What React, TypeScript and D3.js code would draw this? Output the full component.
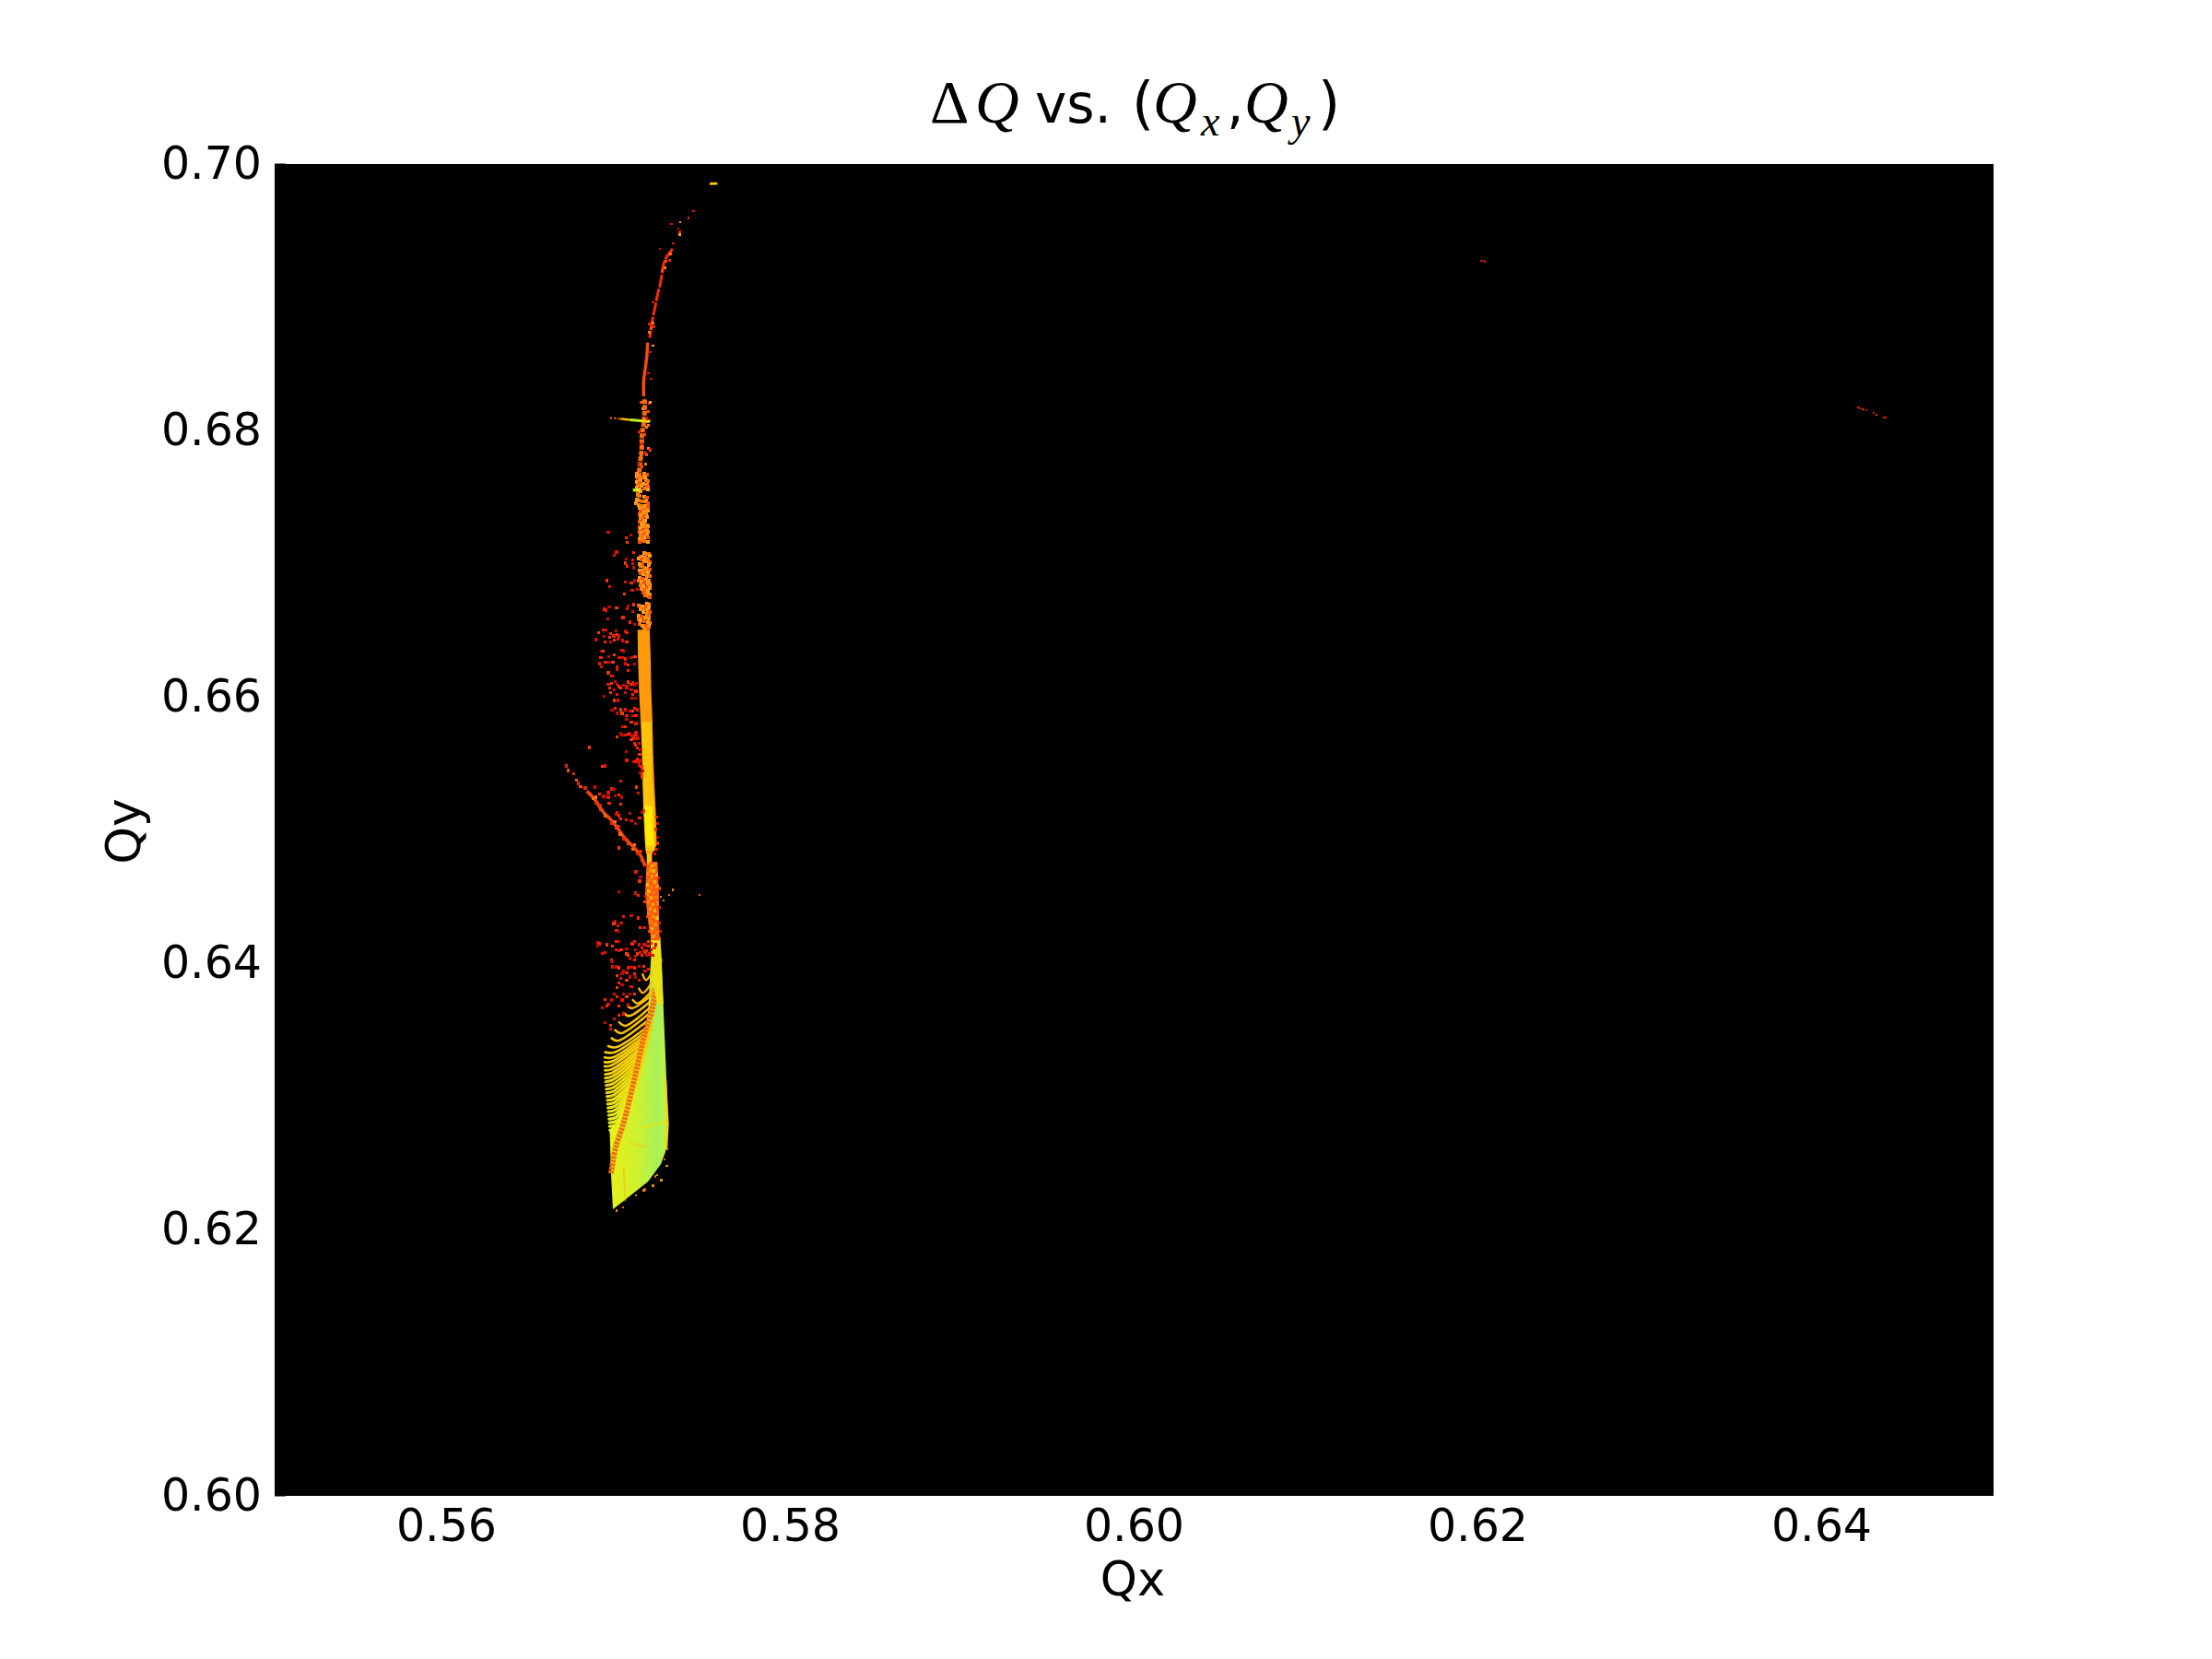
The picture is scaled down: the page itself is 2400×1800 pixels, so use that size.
import React from "react";
import * as d3 from "d3";

type P = [number, number];

const xTicks = [0.56, 0.58, 0.6, 0.62, 0.64];
const yTicks = [0.6, 0.62, 0.64, 0.66, 0.68, 0.7];

const fanBody: P[] = [[.57188,.64014],[.57247,.64104],[.57273,.63322],[.5729,.62789],[.57273,.62581],[.57247,.62491],[.57172,.6236],[.57064,.62249],[.56968,.62152],[.56957,.62422],[.56949,.62745],[.57021,.62860],[.57075,.63020],[.57129,.63273],[.57172,.63619]];
const fanRightEdge: P[] = [[.5727,.63135],[.57279,.63135],[.57293,.6279],[.57285,.626],[.57272,.626],[.57281,.6279]];
const fanBand: P[] = [[.56957,.62422],[.56984,.62616],[.57032,.6281],[.57075,.63031],[.57118,.63273],[.57155,.63481],[.57193,.6364],[.5722,.63827],[.57241,.64035]];
const faintYellow: P[] = [[.57144,.62766],[.57278,.62812]];
const faintOrange: P[] = [[.57066,.6265],[.57173,.62616]];
const faintVertical: P[] = [[.57031,.62466],[.5704,.62212]];
const stripeLeft: P[] = [[.57141,.63915],[.5712,.63809],[.57084,.63723],[.57052,.63684],[.57031,.63626],[.57004,.63557],[.56981,.63497],[.56961,.63435],[.56941,.63377],[.56923,.63331],[.5692,.63292],[.5692,.63257],[.5692,.63225],[.56922,.63195],[.56923,.63165],[.56923,.63137],[.56925,.6311],[.56927,.63082],[.56929,.63054],[.56931,.63026],[.56933,.62998],[.56935,.6297],[.56937,.62942],[.56939,.62914],[.56941,.62886],[.56943,.62858],[.56945,.6283],[.56947,.62802],[.56949,.62774],[.56951,.62746]];
const stripeBend: P[] = [[.57161,.63873],[.57141,.63776],[.57111,.63698],[.57077,.63661],[.57061,.63603],[.5704,.6353],[.57016,.63474],[.56998,.63417],[.56986,.63368],[.56977,.63331],[.56968,.63292],[.56963,.63262],[.56959,.63232],[.56963,.63204],[.56963,.63177],[.56963,.63149],[.56965,.63122],[.56967,.63094],[.56969,.63066],[.56971,.63038],[.56973,.6301],[.56975,.62982],[.56977,.62954],[.56979,.62926],[.56981,.62898],[.56983,.6287],[.56985,.62842],[.56987,.62814],[.56989,.62786],[.56991,.62758]];
const stripeRight: P[] = [[.57197,.63938],[.57206,.63878],[.57209,.63816],[.57213,.63781],[.57216,.63746],[.57216,.63707],[.57213,.63661],[.57206,.63608],[.572,.63555],[.57195,.63523],[.57188,.63493],[.57182,.63463],[.57177,.63435],[.57172,.63407],[.57166,.6338],[.57161,.63352],[.57156,.63324],[.5715,.63296],[.57145,.63268],[.5714,.6324],[.57134,.63212],[.57129,.63184],[.57123,.63156],[.57118,.63128],[.57113,.631],[.57107,.63072],[.57102,.63044],[.57096,.63016],[.57091,.62988],[.57086,.6296]];

const columnSolid: P[] = [[.57111,.66503],[.57114,.66273],[.5712,.66042],[.57129,.65811],[.57137,.6558],[.57141,.6535],[.57146,.65119],[.57155,.64888],[.57161,.64819],[.57195,.64819],[.57223,.64888],[.57218,.65119],[.57209,.6535],[.57202,.6558],[.57198,.65811],[.57191,.66042],[.57188,.66273],[.57182,.66503]];
const columnCore: P[] = [[.57134,.65811],[.57191,.65811],[.57195,.65396],[.57209,.65119],[.57212,.64842],[.57159,.64842],[.57145,.65234]];
const columnBright: P[] = [[.57148,.6518],[.57195,.6518],[.57206,.6488],[.5716,.6488]];
const columnNeck: P[] = [[.57165,.64825],[.57195,.64825],[.57195,.64755],[.57165,.64755]];
const columnLowerRed: P[] = [[.57164,.64761],[.57227,.64761],[.57236,.64519],[.57236,.64311],[.57241,.64172],[.57191,.64172],[.57177,.64265],[.57155,.64519]];
const columnLowerYellow: P[] = [[.57187,.64196],[.57244,.64196],[.57253,.63965],[.57262,.63688],[.57227,.63688],[.57191,.63896]];
const lowerMix: P[] = [[.57175,.6475],[.57195,.6473],[.57215,.6474],[.57185,.647],[.57205,.6469],[.57172,.6467],[.57195,.6465],[.57222,.6466],[.5718,.6462],[.5721,.6461],[.57168,.6459],[.5719,.6457],[.57225,.64575],[.57178,.6454],[.57205,.6453],[.57165,.6451],[.5719,.6449],[.5722,.64495],[.57175,.6446],[.572,.6444],[.57228,.6445],[.57185,.6441],[.57212,.64395],[.57178,.6437],[.572,.6435],[.57225,.6434],[.57188,.6431],[.57215,.6429],[.57195,.6426],[.57222,.6423],[.57205,.642],[.57185,.6424]];
const lowerEdge: P[] = [[.57232,.6464],[.57238,.6456],[.5716,.645],[.57156,.6446],[.5724,.6442],[.57168,.6435],[.5724,.643],[.57178,.6424],[.57245,.6424]];

const arcTop: P[] = [[.57316,.69363],[.57281,.69305],[.57263,.69248],[.57254,.69178],[.57241,.69086],[.57227,.69017],[.57213,.68925],[.572,.68844],[.57191,.68786],[.57182,.68694]];
const arcMid: P[] = [[.5717,.68659],[.57165,.68555],[.57156,.68463],[.57147,.68371],[.57147,.68256]];
const arcLow: P[] = [[.57152,.68233],[.57152,.6814],[.57147,.68048],[.57138,.67979],[.57134,.6784],[.57125,.67748],[.5712,.67679]];
const streakRed: P[] = [[.5695,.68094],[.57013,.68087]];
const streakOrange: P[] = [[.57013,.68087],[.57066,.6808]];
const streakGreen: P[] = [[.57066,.6808],[.57129,.68073]];
const streakYellow: P[] = [[.57129,.68073],[.57182,.68066]];
const smallStreak: P[] = [[.57084,.67552],[.57129,.67552]];
const topBlob: P[] = [[.57531,.69852],[.57576,.69854]];
const diagonal: P[] = [[.56816,.65292],[.56852,.65246],[.56878,.652],[.56914,.65131],[.56959,.65073],[.56994,.65015],[.57039,.64934],[.57084,.64877],[.57129,.64808],[.57155,.64727]];
const diagonalTip: P[] = [[.56696,.65481],[.56709,.65447],[.56739,.65423],[.56757,.65373],[.56768,.6535],[.5678,.65327],[.56807,.65315]];
const diagonalScatter: P[] = [[.56834,.65269],[.56852,.65234],[.56869,.652],[.56896,.65154],[.56923,.65107],[.56959,.6505],[.56986,.65015],[.57012,.64969],[.5703,.64934],[.57057,.649],[.57084,.64854],[.57111,.64819],[.57137,.64773],[.56869,.65246],[.56896,.65188],[.56941,.65096],[.56977,.65061],[.57003,.65027],[.57048,.64923],[.57093,.64888],[.57129,.64842]];

const columnSpeckle: P[] = [
[.57108,.67675],[.57125,.6767],[.5715,.67672],[.57165,.67668],[.57105,.67655],[.57118,.6765],[.5714,.67645],[.57158,.6765],[.5711,.67635],[.5713,.67628],[.5716,.67625],[.57172,.6762],[.57106,.6761],[.57125,.67605],[.57145,.676],[.57165,.67595],[.57112,.6759],[.57132,.67585],[.5717,.6758],[.57108,.6757],[.57122,.6756],[.5715,.67565],[.57172,.67555],[.5711,.67545],[.5713,.6754],[.5711,.67515],[.57125,.6751],[.5715,.67505],[.57165,.67495],[.57105,.6748],[.5712,.67475],[.5714,.6747],[.5716,.67465],[.57172,.67455],[.571,.6745],[.57118,.6744],[.57138,.67435],[.57155,.6743],[.5717,.67425],
[.57125,.6742],[.5714,.67415],[.57155,.67405],[.5717,.674],[.5713,.6739],[.57148,.67385],[.5716,.67375],[.57122,.6737],[.57135,.6736],[.57152,.67355],[.57168,.6735],[.57128,.6734],[.57142,.67332],[.57158,.67325],[.57122,.67318],[.57135,.673],[.5715,.67295],[.57165,.6729],[.57172,.6728],[.57125,.67275],[.5714,.67272],[.57156,.67268],[.57168,.67262],[.5713,.67258],[.57145,.67252],[.5716,.67246],[.57172,.6724],[.57124,.67236],[.57138,.6723],[.57152,.67225],[.57166,.6722],[.57128,.67212],[.57142,.67206],[.57156,.672],[.5717,.67195],[.57126,.67186],[.57136,.67178],[.57148,.67172],[.57172,.6716],[.57122,.67165],
[.5715,.67078],[.57165,.67075],[.57178,.67072],[.57182,.6706],[.57128,.67055],[.57142,.6705],[.57158,.67048],[.57172,.6704],[.5712,.67035],[.57132,.67028],[.5715,.6702],[.57165,.67015],[.5718,.6701],[.57124,.67],[.5714,.66995],[.57175,.6699],[.5713,.6698],[.5715,.66972],[.57168,.66965],[.57182,.66958],[.57122,.6695],[.57138,.66945],[.57155,.6694],[.57172,.66932],[.57128,.66925],[.57145,.66918],[.57165,.6691],[.5718,.66905],[.57125,.66895],[.5714,.66888],[.5716,.6688],[.57178,.66875],[.57118,.6687],[.57132,.66862],[.5715,.66858],[.5717,.6685],[.57182,.66845],[.57128,.66838],[.57145,.6683],[.57165,.66825],[.5718,.66815],[.57135,.66808],[.57155,.668],[.57172,.66795],[.57145,.66785],[.57165,.66778],[.5718,.6677],[.57158,.6676],[.57178,.66755],[.57182,.66745],
[.57165,.66697],[.57178,.66692],[.5712,.66685],[.5714,.6668],[.5716,.66675],[.57175,.6667],[.5713,.6666],[.5715,.66655],[.5717,.6665],[.57182,.6664],[.57145,.66635],[.57165,.66625],[.57178,.66615],[.5712,.6661],[.57135,.66605],[.57155,.66598],[.57175,.6659],[.5712,.6658],[.5713,.66572],[.5715,.66565],[.5717,.6656],[.57182,.66555],[.57125,.66545],[.5714,.66535],[.5716,.6653],[.57178,.66525],[.5715,.66515],[.5717,.6651]];

const arcSpeckle: P[] = [[.57129,.6821],[.57182,.68203],[.57141,.68163],[.57174,.6814],[.57165,.68094],[.57174,.68036],[.57182,.68071],[.5712,.6799],[.57165,.68025],[.57152,.67967],[.57138,.67898],[.57174,.67863],[.57186,.67852],[.57156,.67829],[.57129,.67806],[.57165,.67817],[.5712,.67748],[.57156,.67748],[.57138,.67725],[.5729,.69317],[.57302,.69328],[.57277,.69271],[.57295,.69275],[.57272,.69224],[.57254,.69201],[.57182,.68798],[.572,.68809],[.57191,.68763],[.57206,.68782],[.57177,.6874]];

const topSparse: P[] = [[.57436,.69647],[.57406,.69594],[.57358,.69566],[.57308,.69552],[.57349,.69515],[.57356,.6949],[.57356,.69471],[.57318,.69404],[.57241,.69365],[.572,.68961],[.572,.68636],[.57186,.6859],[.57191,.68389],[.57174,.68429],[.57186,.6821],[.57186,.67863]];

const redCloud: P[] = [
[.56941,.67237],[.57045,.67195],[.57071,.67214],[.57052,.67161],[.56989,.67087],[.56977,.67061],[.57087,.67085],[.57045,.67034],[.57039,.67004],[.57084,.67029],[.57084,.66999],[.57053,.66981],[.57087,.66969],[.56932,.66872],[.5695,.66826],[.57041,.66861],[.57075,.66854],[.57093,.66872],[.57034,.66773],[.5708,.66798],[.57111,.66808],[.56919,.66658],[.56946,.66676],[.56989,.66669],[.56928,.66651],[.56937,.66584],[.57027,.66595],[.57057,.66683],[.57087,.66692],[.57052,.6666],[.57084,.66642],[.57066,.66561],[.57093,.66545],[.56884,.6648],[.56914,.66499],[.56928,.66499],[.56955,.66476],[.56986,.66496],[.56994,.66469],[.57003,.66457],[.57041,.66492],[.57052,.6648],[.56919,.66452],[.56948,.66446],[.56973,.66457],[.56869,.66429],[.56923,.66411],[.56953,.66411],[.56977,.66427],[.56998,.66434],[.57025,.66422],[.57048,.66411],[.56902,.66342],[.56912,.66342],[.57021,.66349],[.5703,.66342],[.56898,.66296],[.56944,.663],[.56977,.66314],[.57003,.66296],[.57021,.66296],[.57039,.66284],[.57075,.66296],[.57096,.663],[.56891,.66249],[.56902,.66226],[.56923,.66261],[.56941,.66261],[.56968,.66261],[.56994,.66226],[.57039,.66249],[.57057,.66238],[.57093,.66245],[.56941,.6618],[.56962,.66153],[.56994,.66203],[.57057,.66199],[.5698,.66116],[.56959,.661],[.56941,.66093],[.56991,.66093],[.57003,.66076],[.5703,.66088],[.57057,.66111],[.57084,.66106],[.57105,.661],[.5695,.66065],[.56977,.66053],[.57012,.66065],[.57048,.66065],[.57075,.66053],[.57102,.66042],[.56919,.66003],[.56955,.6603],[.56991,.66019],[.57039,.6603],[.57084,.66019],[.57098,.65991],[.56977,.65973],[.56998,.65973],[.57077,.65991],[.5698,.65915],[.56962,.65899],[.57012,.65903],[.57039,.65903],[.57066,.65892],[.57093,.65915],[.56991,.65876],[.57021,.65876],[.57048,.65857],[.57084,.65857],[.57102,.65857],[.57048,.6583],[.57075,.65811],[.57102,.658],[.57027,.65774],[.57039,.65774],[.57012,.65723],[.56991,.657],[.57039,.65714],[.57066,.65723],[.57093,.65714],[.57111,.65707],[.57075,.65677],[.57093,.6565],[.5712,.6565],[.57111,.65615],[.57045,.65587],[.5683,.6562],[.57048,.65523],[.57087,.65511],[.57111,.65534],[.57129,.65523],[.56909,.65477],[.56923,.65481],[.5712,.65488],[.57137,.65465],[.57129,.6543],[.57137,.65396],[.57012,.65366],[.56864,.65322],[.56962,.65308],[.56973,.65304],[.57105,.65322],[.56941,.6528],[.56914,.65253],[.56891,.65269],[.5698,.65257],[.57003,.65264],[.56941,.65246],[.57116,.65276],[.56946,.652],[.57019,.65246],[.57012,.65193],[.56994,.65131],[.56986,.65119],[.57003,.65107],[.57066,.65124],[.57012,.65084],[.57045,.65077],[.57075,.65068],[.57123,.65091],[.57098,.6505],[.57003,.64865],[.57102,.64685],[.57129,.64646],[.57123,.64616],[.57003,.64535],[.57098,.6453],
[.57223,.65096],[.57227,.6505],[.57218,.65004],[.57227,.64946],[.5723,.649],[.57223,.64854],[.57212,.64819],[.57146,.65142],[.57137,.65131],
[.57087,.65696],[.57102,.6573],[.57116,.65684],[.57098,.65638],[.57129,.65603],[.57123,.65569],[.57102,.65516],[.5712,.65511],[.57134,.65477],[.57141,.65442],[.57137,.65414],[.57098,.65684],[.5708,.65707],[.57057,.65719],[.57021,.65714],[.57084,.65892],[.57111,.65903],[.57048,.66076],[.57075,.66093],[.57093,.66088]];

const lowCloud: P[] = [[.57098,.64525],[.57114,.64507],[.57125,.64645],[.57123,.64615],[.5703,.64352],[.57075,.64357],[.57114,.64339],[.56982,.64311],[.56973,.64297],[.56998,.64283],[.57016,.64299],[.56989,.64246],[.56998,.64237],[.57128,.64269],[.5715,.64265],[.56878,.64154],[.56891,.64145],[.56878,.64131],[.56932,.64138],[.56923,.6408],[.56909,.64073],[.56985,.64161],[.57003,.64161],[.56967,.64126],[.56985,.64103],[.57003,.64092],[.57016,.64103],[.57048,.6411],[.57048,.64069],[.57093,.64161],[.57119,.64138],[.5708,.64145],[.57101,.64103],[.5711,.64069],[.57137,.64115],[.57146,.64092],[.57155,.6408],[.57164,.64057],[.57137,.64057],[.57128,.6408],[.57101,.64053],[.57093,.64023],[.57066,.64034],[.57057,.64057],[.56967,.63972],[.56985,.63972],[.56959,.64023],[.56967,.64011],[.57003,.63965],[.57057,.63965],[.57075,.6397],[.57093,.63965],[.57119,.63976],[.57146,.63976],[.57173,.63953],[.5703,.63942],[.57048,.6393],[.57021,.63919],[.56994,.63907],[.57012,.63884],[.57066,.63896],[.57093,.63919],[.57101,.63896],[.57048,.63873],[.57119,.63873],[.57155,.63942],[.57003,.6385],[.57021,.63838],[.56994,.63815],[.57075,.63826],[.56976,.63769],[.56994,.63746],[.5703,.63769],[.57048,.63746],[.57021,.63723],[.56959,.63723],[.56923,.63727],[.57066,.63769],[.57093,.63769],[.56941,.63693],[.56905,.63665],[.56932,.63677],[.57057,.63688],[.57003,.63677],[.5703,.63619],[.56976,.63584],[.57003,.63607],[.56923,.63554],[.56955,.63531],[.56953,.63504],[.57155,.64138],[.57173,.64126],[.57191,.64103],[.57209,.64115],[.57182,.64069],[.572,.64057],[.57164,.64092],[.57218,.64138],[.57173,.64161],[.57191,.64149],[.57146,.64138]];

const orangeSparse: P[] = [[.56989,.62143],[.57027,.62166],[.57102,.62258],[.57147,.62293],[.57156,.623],[.572,.62328],[.57249,.62369],[.57213,.62397],[.57224,.62408],[.57281,.62477],[.57268,.62524],[.57284,.62604],[.57316,.64549],[.57295,.64514],[.57262,.64472],[.57248,.645],[.57473,.64514]];
const farGroupA: P[] = [[.62018,.69273],[.62035,.69273],[.6204,.69266]];
const farGroupB: P[] = [[.6421,.68175],[.64223,.68168],[.64239,.68159],[.64262,.6815],[.64303,.68131],[.64317,.68115],[.64364,.68097],[.64371,.68097]];

const PLOT = { left: 298, right: 2163, top: 178, bottom: 1623 };
const x = d3.scaleLinear().domain([0.55, 0.65]).range([PLOT.left, PLOT.right]);
const y = d3.scaleLinear().domain([0.6, 0.7]).range([PLOT.bottom, PLOT.top]);
const path = d3.line<P>().x((d) => x(d[0])).y((d) => y(d[1]));
const smooth = d3.line<P>().x((d) => x(d[0])).y((d) => y(d[1])).curve(d3.curveCatmullRom);
const fmt = d3.format(".2f");
const stripeColor = d3.interpolateRgb("#ffb400", "#e4f01c");

const SANS = "'DejaVu Sans', sans-serif";
const MATH = "'Liberation Serif', serif";

const redShades = ["#d81000", "#ff2400", "#c00c00", "#f03a00", "#e81800"];
const orangeShades = ["#ff8a10", "#ff6a10", "#ffa010", "#f85010", "#ff9a18"];

function Dots({ data, shades, size = 3.2 }: { data: P[]; shades: string[]; size?: number }) {
  return (
    <g shapeRendering="crispEdges">
      {data.map((d, i) => (
        <rect key={i} x={x(d[0]) - size / 2} y={y(d[1]) - size / 2} width={size} height={size} fill={shades[i % shades.length]} />
      ))}
    </g>
  );
}

export default function App() {
  return (
    <svg width={2400} height={1800} viewBox="0 0 2400 1800" style={{ position: "absolute", left: 0, top: 0, background: "#fff" }}>
      <defs>
        <linearGradient id="fanFill" gradientUnits="userSpaceOnUse" x1={x(0.5695)} x2={x(0.5729)} y1={0} y2={0}>
          <stop offset="0" stopColor="#e4f41c" />
          <stop offset="0.45" stopColor="#c8f432" />
          <stop offset="0.8" stopColor="#98f468" />
          <stop offset="1" stopColor="#b8f448" />
        </linearGradient>
        <pattern id="fanDither" width={3} height={3} patternUnits="userSpaceOnUse" patternTransform="rotate(-35)">
          <rect width={3} height={1.2} fill="#f0e010" opacity={0.45} />
        </pattern>
      </defs>

      <rect x={PLOT.left} y={PLOT.top} width={PLOT.right - PLOT.left} height={PLOT.bottom - PLOT.top} fill="#000" />

      {/* fan */}
      <path d={path(fanBody) + "Z"} fill="url(#fanFill)" />
      <path d={path(fanBody) + "Z"} fill="url(#fanDither)" />
      <path d={path(fanRightEdge) + "Z"} fill="#ffd000" />
      {stripeLeft.map((l, i) => (
        <path key={i} d={smooth([l, stripeBend[i], stripeRight[i]]) ?? ""} fill="none" stroke={stripeColor(i / (stripeLeft.length - 1))} strokeWidth={2.4 + (0.9 * i) / stripeLeft.length} strokeLinecap="round" />
      ))}
      <path d={path(faintYellow) ?? ""} stroke="#ffe000" strokeWidth={2} opacity={0.7} />
      <path d={path(faintOrange) ?? ""} stroke="#ffc020" strokeWidth={2} opacity={0.45} />
      <path d={path(faintVertical) ?? ""} stroke="#ffb010" strokeWidth={2} opacity={0.5} />
      <path d={smooth(fanBand) ?? ""} fill="none" stroke="#f07010" strokeWidth={6} strokeDasharray="3 1" />

      {/* column */}
      <path d={path(columnLowerYellow) + "Z"} fill="#e8e014" />
      <path d={path(columnSolid) + "Z"} fill="#ff9a0c" />
      <path d={path(columnCore) + "Z"} fill="#ffc408" />
      <path d={path(columnBright) + "Z"} fill="#ffea00" />
      <path d={path(columnNeck) + "Z"} fill="#ffc408" />
      <path d={path(columnLowerRed) + "Z"} fill="#ff5c10" />
      <Dots data={lowerMix} shades={["#ff9a10", "#ffb400", "#ff7a10"]} size={3.6} />
      <Dots data={lowerEdge} shades={["#e82000", "#ff4000"]} />

      <path d={smooth(arcTop) ?? ""} fill="none" stroke="#f42c08" strokeWidth={3} strokeDasharray="14 1.5" />
      <path d={smooth(arcMid) ?? ""} fill="none" stroke="#ff4a08" strokeWidth={3.4} />
      <path d={smooth(arcLow) ?? ""} fill="none" stroke="#ff6a10" strokeWidth={5} strokeDasharray="5 1.2" />
      <path d={smooth(diagonal) ?? ""} fill="none" stroke="#f04410" strokeWidth={3.6} />

      <Dots data={columnSpeckle} shades={orangeShades} size={4} />
      <Dots data={arcSpeckle} shades={["#ff4a08", "#e82000", "#ff7a10"]} size={3} />
      <Dots data={diagonalTip} shades={["#e02800", "#f05010"]} />
      <Dots data={diagonalScatter} shades={["#f04410", "#ff6a10", "#e02800"]} size={3.6} />
      <Dots data={redCloud} shades={redShades} />
      <Dots data={lowCloud} shades={redShades} />
      <Dots data={topSparse} shades={["#d81000", "#e02000", "#ffa000", "#e01000"]} size={2.4} />
      <Dots data={orangeSparse} shades={["#e89000", "#f06000", "#d89000"]} size={2.4} />
      <Dots data={farGroupA} shades={["#e00c00"]} size={2.2} />
      <Dots data={farGroupB} shades={["#e00c00", "#d80800", "#ff3000"]} size={2.2} />

      <path d={path(streakRed) ?? ""} stroke="#f06000" strokeWidth={2} strokeDasharray="2.5 2" />
      <path d={path(streakOrange) ?? ""} stroke="#ffc000" strokeWidth={2.4} />
      <path d={path(streakGreen) ?? ""} stroke="#b8f030" strokeWidth={3} />
      <path d={path(streakYellow) ?? ""} stroke="#ffd800" strokeWidth={3} />
      <path d={path(smallStreak) ?? ""} stroke="#c8e820" strokeWidth={3.4} />
      <path d={path(topBlob) ?? ""} stroke="#ffc800" strokeWidth={2.6} />

      {/* ticks */}
      <g fontFamily={SANS} fontSize={49} fill="#000">
        {xTicks.map((t) => (
          <g key={t}>
            <line x1={x(t)} x2={x(t)} y1={PLOT.bottom} y2={PLOT.bottom - 12} stroke="#000" />
            <text x={x(t)} y={1672} textAnchor="middle">{fmt(t)}</text>
          </g>
        ))}
        {yTicks.map((t) => (
          <g key={t}>
            <line x1={PLOT.left} x2={PLOT.left + 12} y1={y(t)} y2={y(t)} stroke="#000" />
            <text x={284} y={y(t) + 16} textAnchor="end">{fmt(t)}</text>
          </g>
        ))}
        <text x={1229} y={1731} textAnchor="middle" fontSize={51}>Qx</text>
        <text transform="translate(152,902) rotate(-90)" textAnchor="middle" fontSize={52}>Qy</text>
      </g>

      {/* title */}
      <g fill="#000" fontSize={58}>
        <text x={1009} y={133} fontFamily={MATH} fontSize={66}>Δ</text>
        <text x={1058} y={133} fontFamily={MATH} fontStyle="italic" fontSize={66}>Q</text>
        <text x={1123} y={133} fontFamily={SANS}>vs.</text>
        <text x={1228} y={133} fontFamily={SANS} fontSize={62}>(</text>
        <text x={1251} y={133} fontFamily={MATH} fontStyle="italic" fontSize={66}>Q</text>
        <text x={1303} y={147} fontFamily={MATH} fontStyle="italic" fontSize={46}>x</text>
        <text x={1331} y={133} fontFamily={SANS}>,</text>
        <text x={1350} y={133} fontFamily={MATH} fontStyle="italic" fontSize={66}>Q</text>
        <text x={1401} y={147} fontFamily={MATH} fontStyle="italic" fontSize={46}>y</text>
        <text x={1430} y={133} fontFamily={SANS} fontSize={62}>)</text>
      </g>
    </svg>
  );
}
